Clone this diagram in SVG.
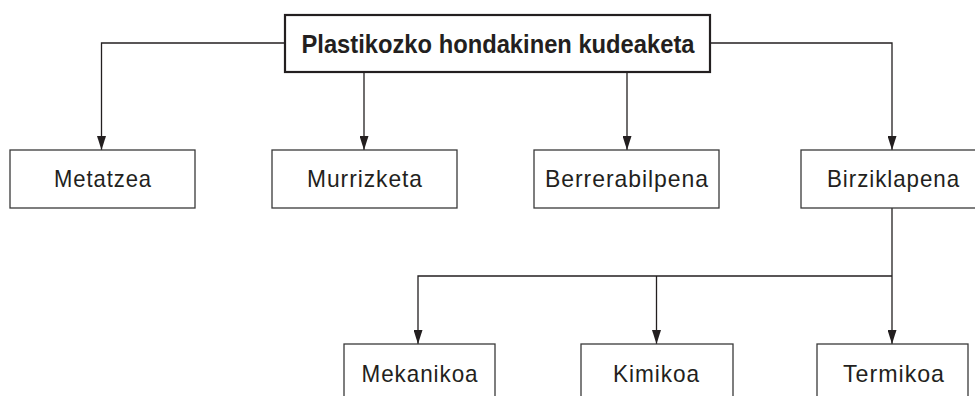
<svg xmlns="http://www.w3.org/2000/svg" width="975" height="396" viewBox="0 0 975 396">
  <style>
    .box { fill: #ffffff; stroke: #3a3a3a; stroke-width: 1.3; }
    .top { fill: #ffffff; stroke: #231f20; stroke-width: 2.2; }
    .lbl { font-family: "Liberation Sans", Arial, sans-serif; font-size: 24px; fill: #231f20; text-anchor: middle; letter-spacing: 1px; }
    .ttl { font-family: "Liberation Sans", Arial, sans-serif; font-size: 25px; font-weight: bold; fill: #231f20; text-anchor: middle; }
    .con { fill: none; stroke: #231f20; stroke-width: 1.3; }
  </style>
  <defs>
    <marker id="arr" markerUnits="userSpaceOnUse" markerWidth="14" markerHeight="9" refX="14" refY="4.5" orient="auto">
      <path d="M0,0 L14,4.5 L0,9 Z" fill="#231f20"/>
    </marker>
  </defs>
  <rect width="975" height="396" fill="#ffffff"/>
  <g id="connectors">
    <path class="con" d="M285,43 H101.5 V150" marker-end="url(#arr)"/>
    <path class="con" d="M364,72 V150" marker-end="url(#arr)"/>
    <path class="con" d="M627,72 V150" marker-end="url(#arr)"/>
    <path class="con" d="M710,43 H892 V150" marker-end="url(#arr)"/>
    <path class="con" d="M892,208 V344" marker-end="url(#arr)"/>
    <path class="con" d="M892,276 H418 V344" marker-end="url(#arr)"/>
    <path class="con" d="M656.5,276 V344" marker-end="url(#arr)"/>
  </g>
  <g id="root">
    <rect class="top" x="285" y="15" width="425" height="57"/>
    <text class="ttl" x="498" y="53" textLength="393" lengthAdjust="spacingAndGlyphs">Plastikozko hondakinen kudeaketa</text>
  </g>
  <g id="metatzea">
    <rect class="box" x="10" y="150" width="185" height="58"/>
    <text class="lbl" x="103" y="187" textLength="98" lengthAdjust="spacingAndGlyphs">Metatzea</text>
  </g>
  <g id="murrizketa">
    <rect class="box" x="272" y="150" width="185" height="58"/>
    <text class="lbl" x="365" y="187" textLength="116" lengthAdjust="spacingAndGlyphs">Murrizketa</text>
  </g>
  <g id="berrerabilpena">
    <rect class="box" x="534" y="150" width="185" height="58"/>
    <text class="lbl" x="627" y="187" textLength="164" lengthAdjust="spacingAndGlyphs">Berrerabilpena</text>
  </g>
  <g id="birziklapena">
    <rect class="box" x="801" y="150" width="185" height="58"/>
    <text class="lbl" x="893.5" y="187" textLength="133" lengthAdjust="spacingAndGlyphs">Birziklapena</text>
  </g>
  <g id="mekanikoa">
    <rect class="box" x="344" y="344" width="151" height="58"/>
    <text class="lbl" x="420" y="381.5" textLength="117" lengthAdjust="spacingAndGlyphs">Mekanikoa</text>
  </g>
  <g id="kimikoa">
    <rect class="box" x="581" y="344" width="152" height="58"/>
    <text class="lbl" x="656.5" y="381.5" textLength="87" lengthAdjust="spacingAndGlyphs">Kimikoa</text>
  </g>
  <g id="termikoa">
    <rect class="box" x="817" y="344" width="151" height="58"/>
    <text class="lbl" x="894" y="381.5" textLength="102" lengthAdjust="spacingAndGlyphs">Termikoa</text>
  </g>
</svg>
